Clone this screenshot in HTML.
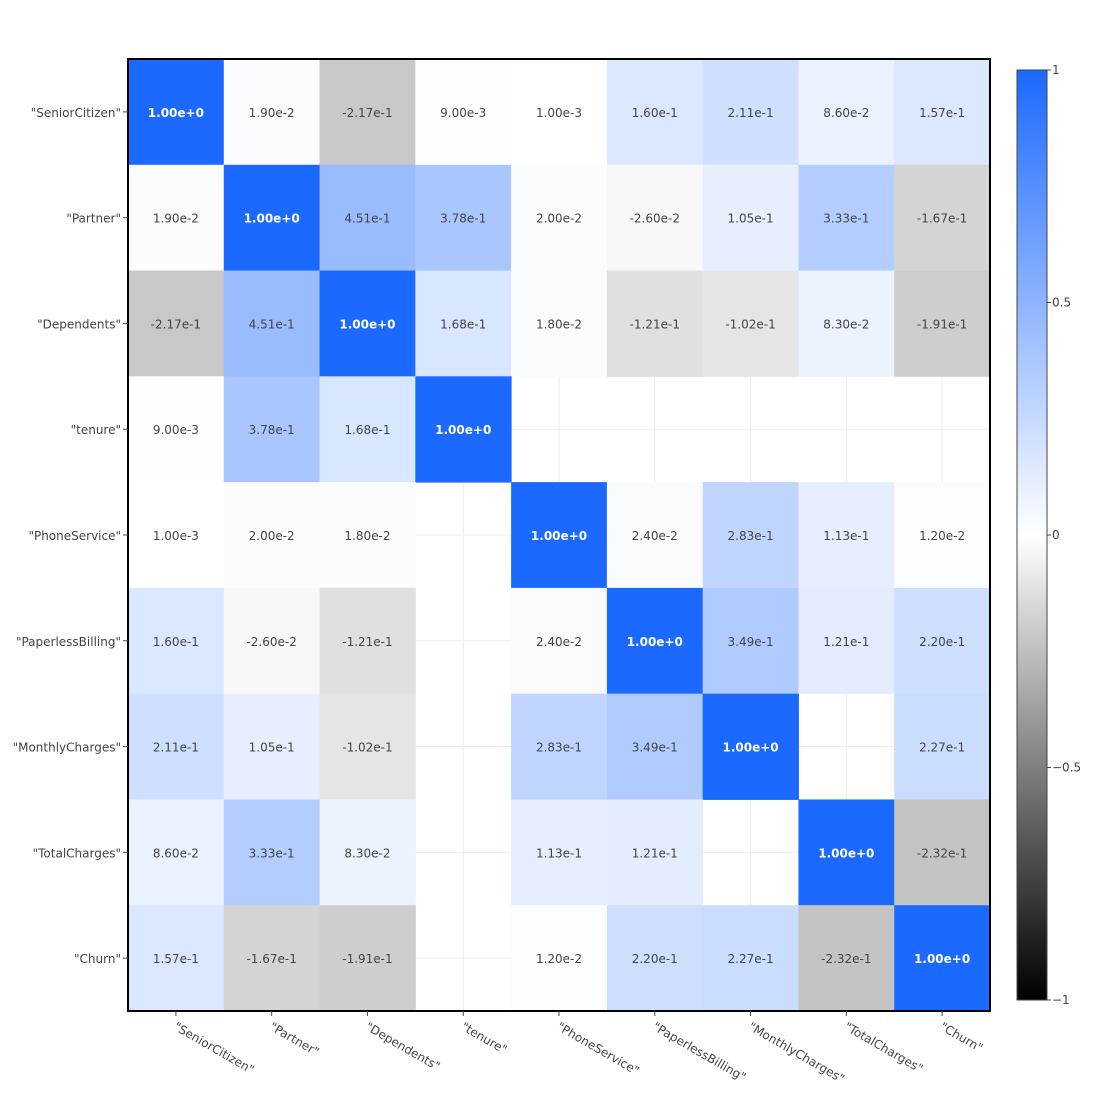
<!DOCTYPE html>
<html><head><meta charset="utf-8"><style>
body{margin:0;background:#fff;font-family:"DejaVu Sans","Liberation Sans",sans-serif}
svg text{font-family:"DejaVu Sans","Liberation Sans",sans-serif}
</style></head><body>
<svg id="chart" width="1100" height="1100" xmlns="http://www.w3.org/2000/svg">
<defs><linearGradient id="cbg" x1="0" y1="0" x2="0" y2="1">
<stop offset="0" stop-color="#1c69ff"/><stop offset="0.5" stop-color="#ffffff"/><stop offset="1" stop-color="#000000"/>
</linearGradient></defs>
</svg>
<script>
const labels = ['"SeniorCitizen"','"Partner"','"Dependents"','"tenure"','"PhoneService"','"PaperlessBilling"','"MonthlyCharges"','"TotalCharges"','"Churn"'];
const row0 = [1,0.019,-0.217,0.009,0.001,0.16,0.211,0.086,0.157];
const row1 = [0.019,1,0.451,0.378,0.02,-0.026,0.105,0.333,-0.167];
const row2 = [-0.217,0.451,1,0.168,0.018,-0.121,-0.102,0.083,-0.191];
const row3 = [0.009,0.378,0.168,1,null,null,null,null,null];
const row4 = [0.001,0.02,0.018,null,1,0.024,0.283,0.113,0.012];
const row5 = [0.16,-0.026,-0.121,null,0.024,1,0.349,0.121,0.22];
const row6 = [0.211,0.105,-0.102,null,0.283,0.349,1,null,0.227];
const row7 = [0.086,0.333,0.083,null,0.113,0.121,null,1,-0.232];
const row8 = [0.157,-0.167,-0.191,null,0.012,0.22,0.227,-0.232,1];
const cbTicks = [1,0.5,0,-0.5,-1];
const cbTickLabels = ['1','0.5','0','\u22120.5','\u22121'];

const rows=[row0,row1,row2,row3,row4,row5,row6,row7,row8];
const NS='http://www.w3.org/2000/svg';
const svg=document.getElementById('chart');
const X0=128,X1=990,Y0=59,Y1=1011,n=labels.length;
const cw=(X1-X0)/n,ch=(Y1-Y0)/n;
const xs=i=>X0+i*cw, ys=j=>Y0+j*ch;
const cbY=v=>70+(1-v)/2*930;
function col(v){
  if(v>=0){const r=Math.round(255-(255-28)*v),g=Math.round(255-(255-105)*v);return `rgb(${r},${g},255)`;}
  const c=Math.round(255*(1+v));return `rgb(${c},${c},${c})`;
}
function mk(t,a,p){const e=document.createElementNS(NS,t);for(const k in a)e.setAttribute(k,a[k]);(p||svg).appendChild(e);return e;}
function fmt(v){let s=v.toExponential(2);return s.replace(/e([+-])(\d+)/,(m,sg,d)=>'e'+sg+parseInt(d));}
for(let i=0;i<n;i++){
  const gx=mk('line',{x1:xs(i)+cw/2,x2:xs(i)+cw/2,y1:Y0,y2:Y1,stroke:'#eeeeee'});
  
  
  const gy=mk('line',{y1:ys(i)+ch/2,y2:ys(i)+ch/2,x1:X0,x2:X1,stroke:'#eeeeee'});
  
  
}
for(let j=0;j<n;j++)for(let i=0;i<n;i++){
  const v=rows[j][i]; if(v===null) continue;
  const r=mk('rect',{x:xs(i),y:ys(j),width:cw+0.5,height:ch+0.5,fill:col(v)});
  
  
  const t=mk('text',{x:xs(i)+cw/2,y:ys(j)+ch/2+5,'text-anchor':'middle','font-size':12,fill:v>0.7?'#fff':'#444','font-weight':v>0.7?'bold':'normal'});
  t.textContent=fmt(v);
  
  
}
const fr=mk('rect',{x:X0,y:Y0,width:X1-X0,height:Y1-Y0,fill:'none',stroke:'#000','stroke-width':2});


labels.forEach((l,k)=>{
  const cy=ys(k)+ch/2;
  mk('line',{x1:123,x2:128,y1:cy,y2:cy,stroke:'#444'});
  const t=mk('text',{x:121,y:cy+5,'text-anchor':'end','font-size':12,fill:'#444'});
  t.textContent=l;
  
  
  const cx=xs(k)+cw/2;
  mk('line',{x1:cx,x2:cx,y1:Y1,y2:Y1+5,stroke:'#444'});
  const tx=mk('text',{x:0,y:0,'font-size':12,fill:'#444',transform:`translate(${cx-3},${Y1+18}) rotate(30)`});
  tx.textContent=l;
  
  
});
const cb=mk('rect',{x:1017,y:70,width:30,height:930,fill:'url(#cbg)',stroke:'#444','stroke-width':1});


cbTicks.forEach((v,k)=>{
  const y=cbY(v);
  mk('line',{x1:1047,x2:1051,y1:y,y2:y,stroke:'#444'});
  const t=mk('text',{x:1052,y:y+4,'font-size':12,fill:'#444'});
  t.textContent=cbTickLabels[k];
  
  
});
</script>
</body></html>
